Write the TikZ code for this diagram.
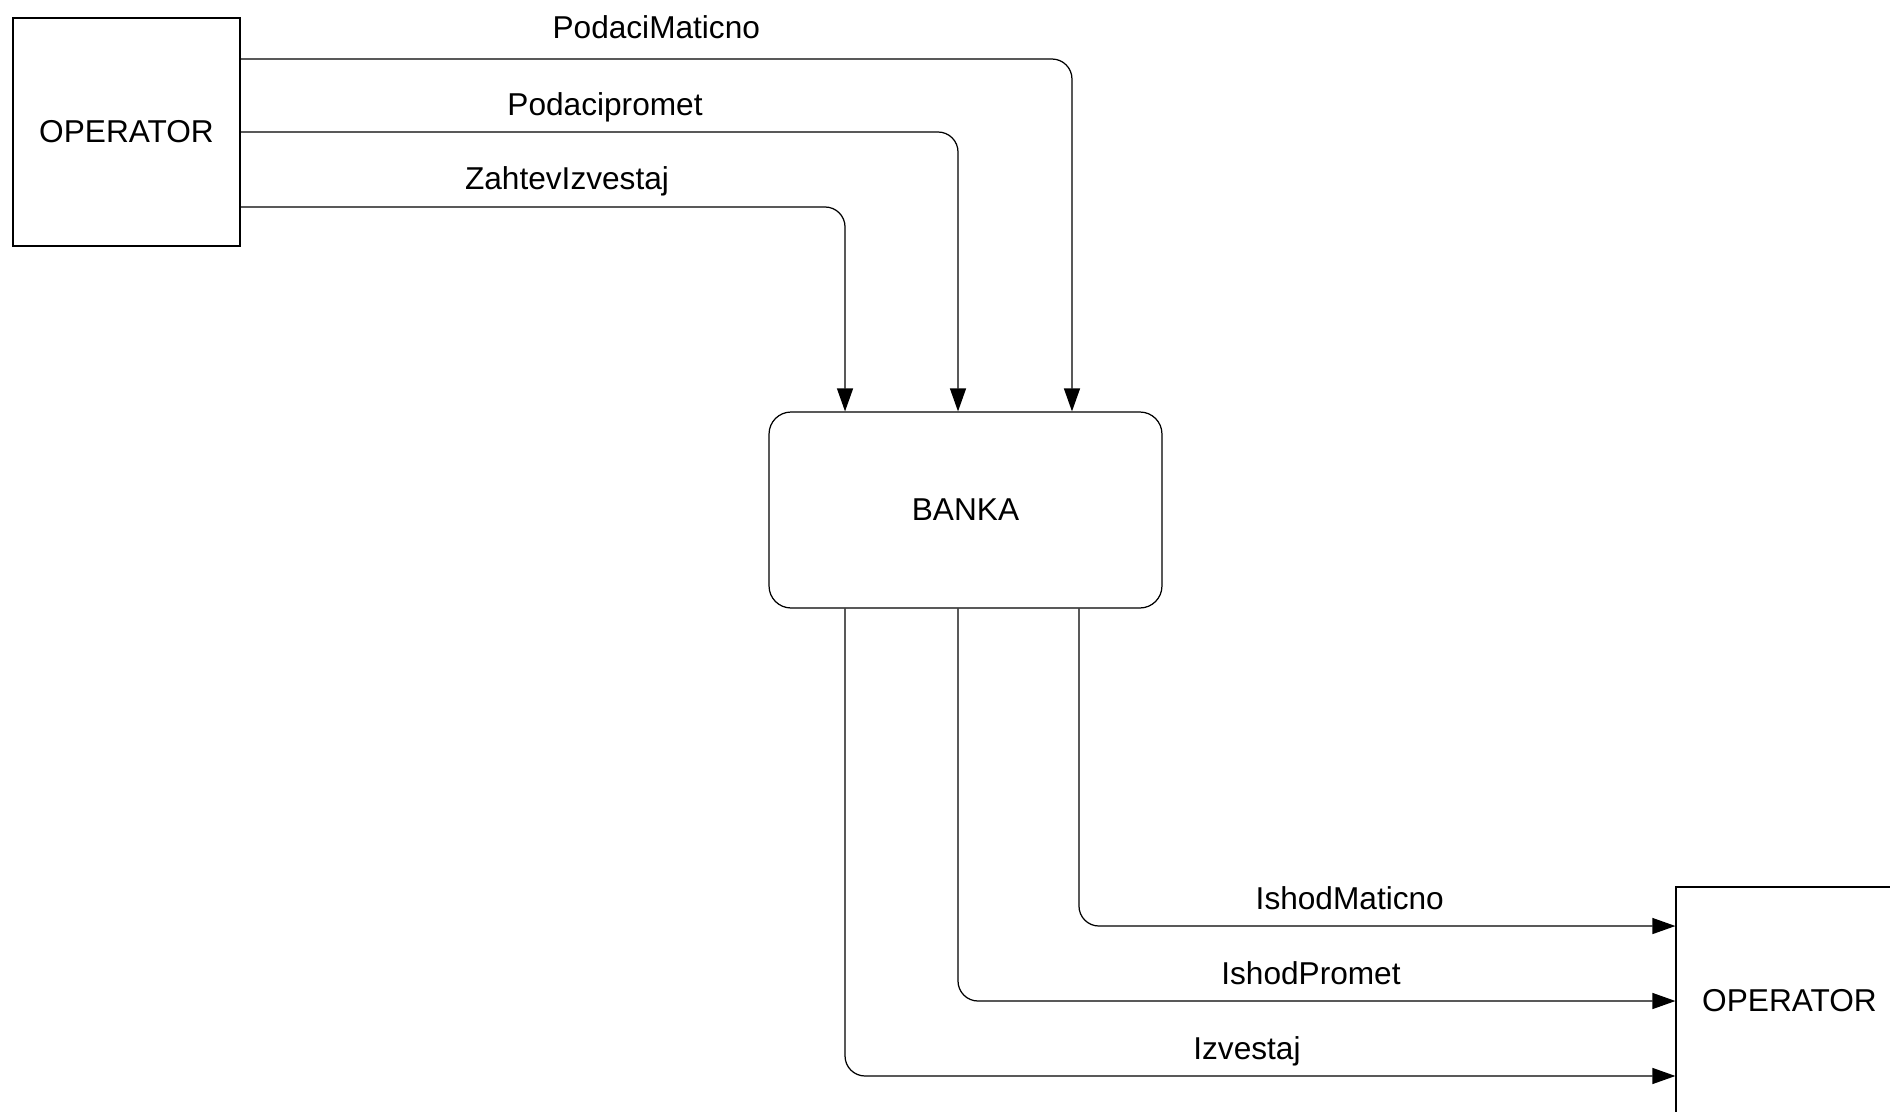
\documentclass[tikz,border=0pt]{standalone}
\usepackage{fontspec}
\setmainfont{Liberation Sans}
\usepackage{tikz}
\usetikzlibrary{arrows.meta, positioning}
\tikzstyle{extent} = [rectangle, draw, line width=0.7pt, minimum width=4.54cm, minimum height=4.56cm, align=center, font=\fontsize{18}{21.6}\selectfont]
\tikzstyle{process} = [rectangle, draw, line width=0.7pt, rounded corners=0.44cm, minimum width=7.86cm, minimum height=3.92cm, align=center, font=\fontsize{18}{21.6}\selectfont]
\tikzstyle{flow} = [-{Triangle[length=0.46cm, width=0.32cm]}, line width=0.7pt, rounded corners=0.4cm]
\tikzstyle{lbl} = [anchor=base, inner sep=0pt, yshift=0.34cm, font=\fontsize{18}{21.6}\selectfont]

\begin{document}
\begin{tikzpicture}[x=0.02cm, y=-0.02cm]
\useasboundingbox (0,0) rectangle (1890,1112);
\clip (0,0) rectangle (1890,1112);

% Entities and process
\node[extent] (opLeft) at (126.5,132) {OPERATOR};
\node[process] (banka) at (965.5,510) {BANKA};
\node[extent] (opRight) at (1789.5,1001) {OPERATOR};

% Incoming flows
\draw[flow] ([yshift=1.46cm]opLeft.east) -| ([xshift=2.13cm]banka.north)
  node[lbl, pos=0.25, yshift=0.08cm] (lblPodaciMaticno) {PodaciMaticno};
\draw[flow] (opLeft.east) -| ([xshift=-0.15cm]banka.north)
  node[lbl, pos=0.254] (lblPodacipromet) {Podacipromet};
\draw[flow] ([yshift=-1.5cm]opLeft.east) -| ([xshift=-2.41cm]banka.north)
  node[lbl, pos=0.27] (lblZahtevIzvestaj) {ZahtevIzvestaj};

% Outgoing flows
\draw[flow] ([xshift=2.27cm]banka.south) |- ([yshift=1.5cm]opRight.west)
  node[lbl, pos=0.727] (lblIshodMaticno) {IshodMaticno};
\draw[flow] ([xshift=-0.15cm]banka.south) |- (opRight.west)
  node[lbl, pos=0.746] (lblIshodPromet) {IshodPromet};
\draw[flow] ([xshift=-2.41cm]banka.south) |- ([yshift=-1.5cm]opRight.west)
  node[lbl, pos=0.742] (lblIzvestaj) {Izvestaj};

\end{tikzpicture}
\end{document}
